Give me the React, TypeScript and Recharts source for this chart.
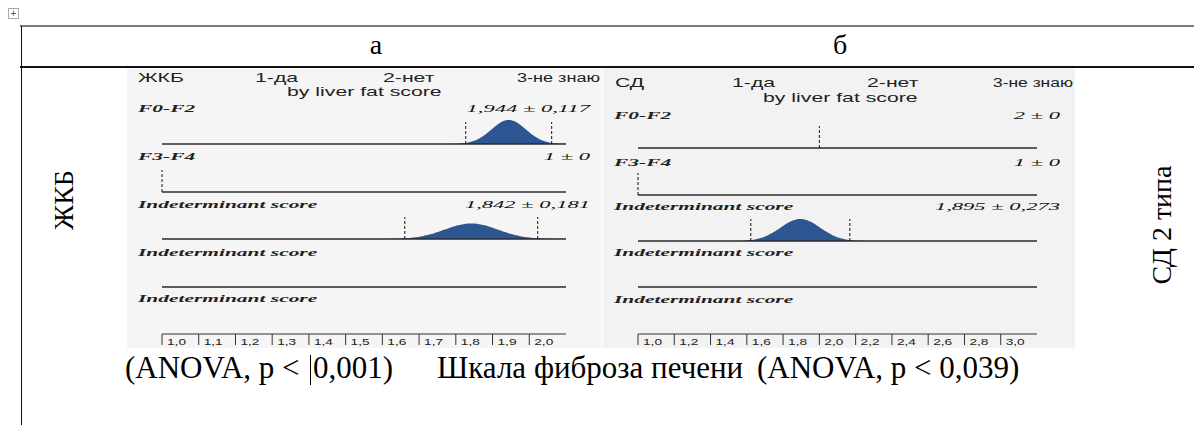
import { Area, ComposedChart, ReferenceLine, XAxis, YAxis } from "recharts";

// rows of each density panel (same in both)
const rowLabels = ["F0-F2", "F3-F4", "Indeterminant score", "Indeterminant score", "Indeterminant score"];
const answerLabels = ["1-да", "2-нет", "3-не знаю"];

// panel а: ЖКБ, mean ± sd by liver fat score
const gbMeans = [1.944, 1, 1.842, null, null];
const gbSds = [0.117, 0, 0.181, null, null];
const gbTicks = [1.0, 1.1, 1.2, 1.3, 1.4, 1.5, 1.6, 1.7, 1.8, 1.9, 2.0];

// panel б: СД
const dmMeans = [2, 1, 1.895, null, null];
const dmSds = [0, 0, 0.273, null, null];
const dmTicks = [1.0, 1.2, 1.4, 1.6, 1.8, 2.0, 2.2, 2.4, 2.6, 2.8, 3.0];

const FILL = "#2c5592";
const SANS = "'Liberation Sans', Arial, sans-serif";
const SERIF = "'Liberation Serif', 'Times New Roman', serif";
const SANS_SX = 1.77;
const SERIF_SX = 1.95;

const fmt = (v: number) => String(v).replace(".", ",");

// normal density shape drawn for a mean ± sd pair
function bell(mean: number, sd: number) {
	const s = sd * 0.4;
	const pts: { x: number; d: number }[] = [];
	for (let i = -32; i <= 32; i++) {
		const x = mean + (i / 10) * s;
		const z = (x - mean) / s;
		pts.push({ x, d: Math.exp(-0.5 * z * z) / (s * Math.sqrt(2 * Math.PI)) });
	}
	return pts;
}

interface PanelProps {
	group: string;
	means: (number | null)[];
	sds: (number | null)[];
	ticks: number[];
	domain: [number, number];
	left: number;
	width: number;
	ml: number;
	mr: number;
	yMax: number;
	bg: string;
	headX: number[];
	headY: number;
	subY: number;
	labelY: number[];
	valueX: number;
	rowTop: number[];
}

function AxisTick(props: any) {
	const { x, y, payload } = props;
	return (
		<text x={x + 5} y={y} fontSize={9} fontFamily={SANS} fill="#222" textLength={19} lengthAdjust="spacingAndGlyphs">
			{payload.value.toFixed(1).replace(".", ",")}
		</text>
	);
}

function Panel(p: PanelProps) {
	const H = 280;
	return (
		<div style={{ position: "absolute", left: p.left, top: 68, width: p.width, height: H, background: p.bg, overflow: "hidden" }}>
			{p.rowTop.map((top, i) => {
				const mean = p.means[i];
				const sd = p.sds[i];
				const data = mean != null && sd != null && sd > 0 ? bell(mean, sd) : [{ x: p.domain[0] }, { x: p.domain[1] }];
				const marks = mean == null || sd == null ? [] : sd > 0 ? [mean - sd, mean + sd] : [mean];
				return (
					<div key={i} style={{ position: "absolute", left: 0, top }}>
						<ComposedChart width={p.width} height={46} data={data} margin={{ top: 0, bottom: 2, left: p.ml, right: p.mr }}>
							<XAxis dataKey="x" type="number" domain={p.domain} hide allowDataOverflow />
							<YAxis type="number" domain={[0, p.yMax]} hide allowDataOverflow />
							<Area dataKey="d" type="monotone" fill={FILL} fillOpacity={1} stroke="none" isAnimationActive={false} />
							<ReferenceLine y={0} stroke="#2a2a2a" strokeWidth={1.5} />
							{marks.map((v) => (
								<ReferenceLine
									key={v}
									segment={[
										{ x: v, y: 0 },
										{ x: v, y: p.yMax / 2 },
									]}
									stroke="#111"
									strokeDasharray="3 2"
								/>
							))}
						</ComposedChart>
					</div>
				);
			})}
			<div style={{ position: "absolute", left: 0, top: 260 }}>
				<ComposedChart width={p.width} height={26} data={[{ x: p.domain[0] }, { x: p.domain[1] }]} margin={{ top: 0, bottom: 0, left: p.ml, right: p.mr }}>
					<XAxis
						dataKey="x"
						type="number"
						domain={p.domain}
						ticks={p.ticks}
						interval={0}
						height={20}
						tickSize={11}
						tickMargin={0}
						stroke="#333"
						tick={<AxisTick />}
						allowDataOverflow
					/>
					<YAxis hide domain={[0, 1]} />
					<Area dataKey="d" stroke="none" isAnimationActive={false} />
				</ComposedChart>
			</div>
			<svg width={p.width} height={H} style={{ position: "absolute", left: 0, top: 0, pointerEvents: "none" }}>
				{[p.group, ...answerLabels].map((t, i) =>
					i === 3 ? (
						<text key={t} x={p.headX[i]} y={p.headY} fontFamily={SANS} fontSize={12} fill="#222" textLength={p.width - p.headX[i] - 2} lengthAdjust="spacingAndGlyphs">
							{t}
						</text>
					) : (
						<text key={t} transform={`translate(${p.headX[i]},${p.headY}) scale(${SANS_SX},1)`} fontFamily={SANS} fontSize={12} fill="#222">
							{t}
						</text>
					)
				)}
				<text transform={`translate(160,${p.subY}) scale(${SANS_SX},1)`} fontFamily={SANS} fontSize={12} fill="#222">
					by liver fat score
				</text>
				{rowLabels.map((t, i) => (
					<text key={i} transform={`translate(11,${p.labelY[i]}) scale(${SERIF_SX},1)`} fontFamily={SERIF} fontStyle="italic" fontWeight="bold" fontSize={11} fill="#222">
						{t}
					</text>
				))}
				{p.means.map((m, i) =>
					m == null ? null : (
						<text key={i} transform={`translate(${p.valueX},${p.labelY[i]}) scale(2.05,1)`} textAnchor="end" fontFamily={SERIF} fontStyle="italic" fontSize={11} fill="#111">
							{`${fmt(m)} ± ${fmt(p.sds[i] ?? 0)}`}
						</text>
					)
				)}
			</svg>
		</div>
	);
}

export default function App() {
	return (
		<div style={{ position: "absolute", left: 0, top: 0, width: 1194, height: 425, background: "#fff", overflow: "hidden" }}>
			<div style={{ position: "absolute", left: 8, top: 8, width: 9, height: 9, border: "1px solid #aaa", fontSize: 10, lineHeight: "9px", textAlign: "center", color: "#555", fontFamily: SANS }}>+</div>
			<div style={{ position: "absolute", left: 20, top: 25, width: 1174, height: 2, background: "#7a7a7a" }} />
			<div style={{ position: "absolute", left: 20, top: 66, width: 1174, height: 1.5, background: "#111" }} />
			<div style={{ position: "absolute", left: 20.5, top: 26, width: 1.2, height: 399, background: "#111" }} />

			<Panel group="ЖКБ" means={gbMeans} sds={gbSds} ticks={gbTicks} domain={[1, 2.1]} left={127} width={475} ml={35} mr={36} yMax={15.6} bg="#f5f5f5" headX={[11, 128, 256, 390]} headY={14} subY={28} labelY={[44, 92, 140, 188, 234]} valueX={463} rowTop={[32, 79.5, 127, 175]} />
			<Panel group="СД" means={dmMeans} sds={dmSds} ticks={dmTicks} domain={[1, 3.2]} left={603} width={472} ml={35} mr={38} yMax={7.3} bg="#f2f2f2" headX={[12, 129, 264, 390]} headY={19} subY={34} labelY={[51, 98, 142, 188, 235]} valueX={457} rowTop={[36, 82.5, 129, 175]} />

			<svg width={1194} height={425} style={{ position: "absolute", left: 0, top: 0, pointerEvents: "none" }} fontFamily={SERIF} fill="#000">
				<text x={376} y={54} fontSize={28} textAnchor="middle">а</text>
				<text x={840} y={54} fontSize={28} textAnchor="middle">б</text>
				<text transform="translate(73,200) rotate(-90)" fontSize={28} textAnchor="middle">ЖКБ</text>
				<text transform="translate(1171,225) rotate(-90)" fontSize={28} textAnchor="middle">СД 2 типа</text>
				<text x={125} y={378} fontSize={31}>(ANOVA, p &lt;</text>
				<text x={313} y={378} fontSize={31}>0,001)</text>
				<line x1={310.5} y1={355} x2={310.5} y2={385} stroke="#000" strokeWidth={1} />
				<text x={437} y={378} fontSize={31}>Шкала фиброза печени</text>
				<text x={757} y={378} fontSize={31}>(ANOVA, p &lt; 0,039)</text>
			</svg>
		</div>
	);
}
